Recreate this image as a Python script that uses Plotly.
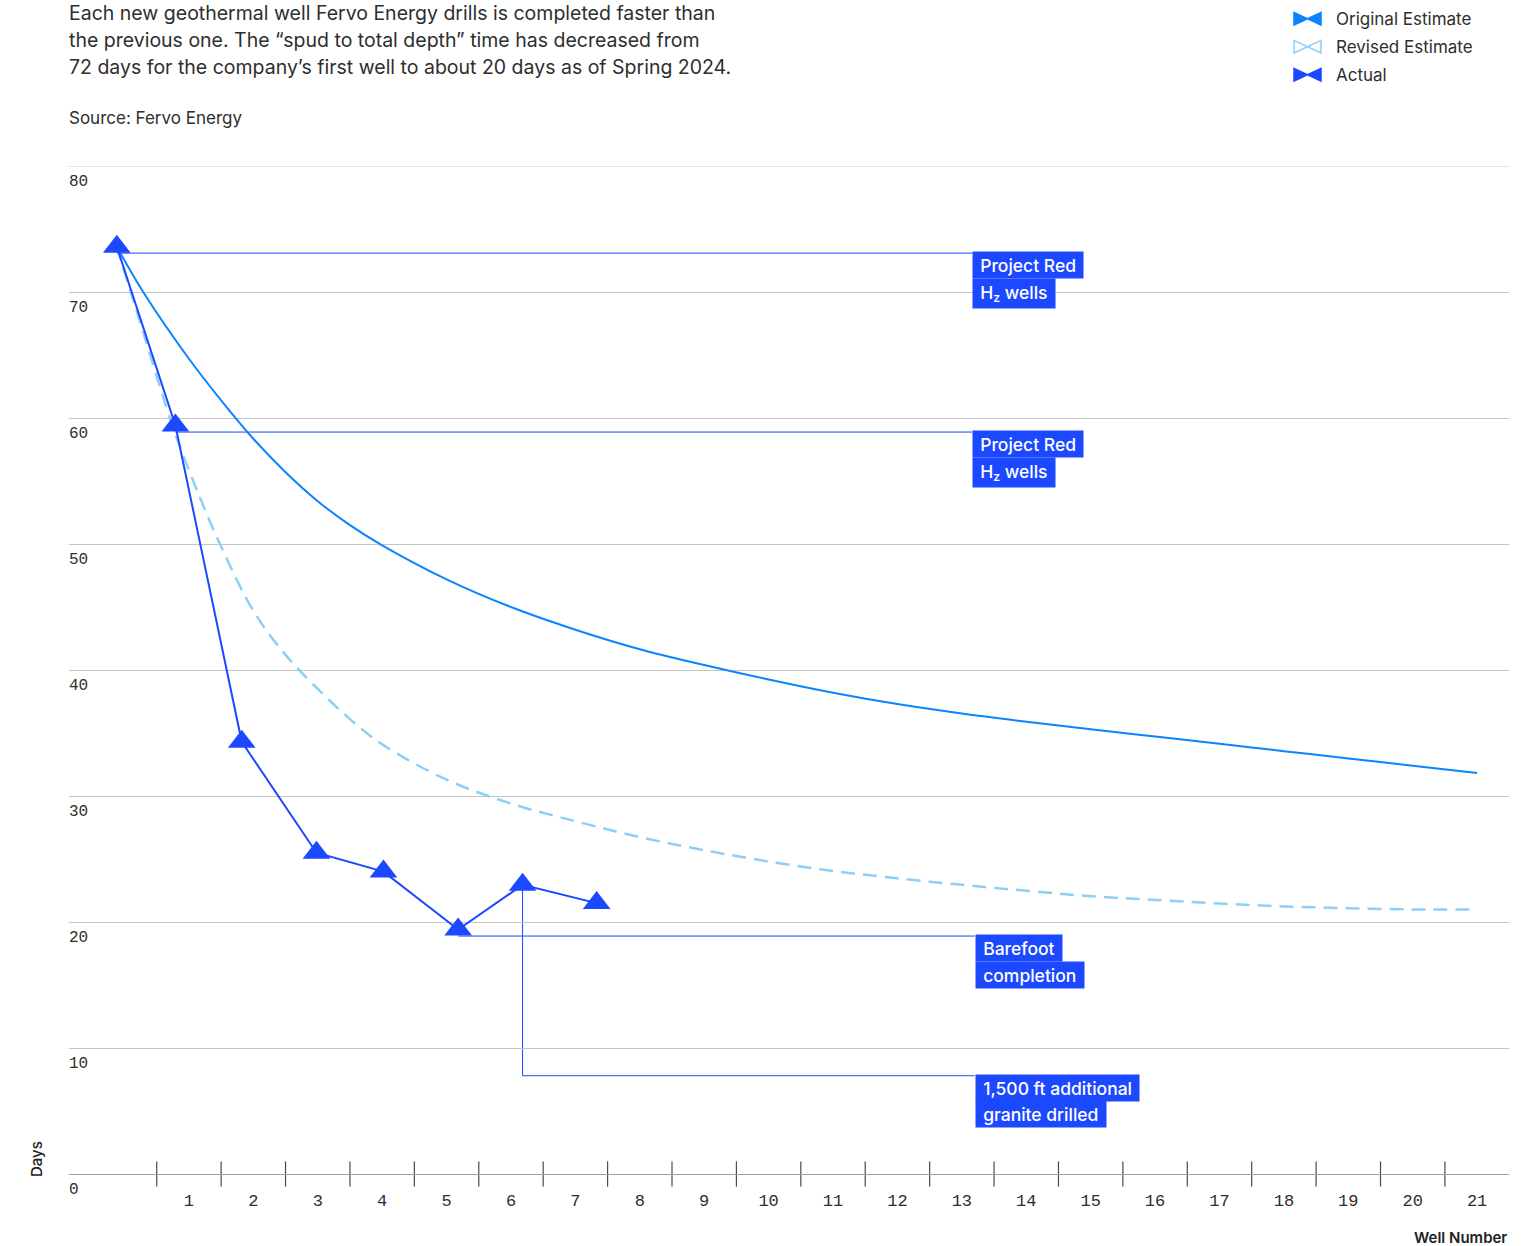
import plotly.graph_objects as go

# ---- data -------------------------------------------------------------
ACTUAL_X = [-0.12, 0.79, 1.82, 2.98, 4.02, 5.18, 6.18, 7.33]
ACTUAL_DAYS = [73.6, 59.4, 34.3, 25.5, 24.0, 19.4, 22.95, 21.5]

ORIG_X = [-0.12, 0.29, 1, 1.5, 2, 2.5, 3, 3.5, 4, 5, 6, 7, 8, 9, 10, 11,
          12, 13, 14, 15, 16, 17, 18, 19, 20, 21]
ORIG_DAYS = [73.6, 70.0, 64.7, 61.4, 58.35, 55.7, 53.4, 51.5, 49.9, 47.2,
             45.0, 43.2, 41.65, 40.4, 39.25, 38.2, 37.3, 36.55, 35.9, 35.3,
             34.72, 34.14, 33.56, 32.98, 32.4, 31.82]

REV_X = [-0.12, 0.29, 0.77, 1.17, 1.5, 2, 2.5, 3, 3.5, 4, 5, 6, 7, 8, 9,
         10, 11, 12, 13, 14, 15, 16, 17, 18, 19, 20, 20.95]
REV_DAYS = [73.6, 66.8, 59.0, 53.7, 49.8, 44.7, 41.2, 38.5, 36.1, 34.1,
            31.3, 29.4, 28.0, 26.74, 25.7, 24.8, 24.05, 23.47, 22.95, 22.48,
            22.05, 21.75, 21.47, 21.24, 21.1, 21.0, 21.0]

WELL_LABELS = [str(n) for n in range(1, 22)]
Y_TICKS = [0, 10, 20, 30, 40, 50, 60, 70, 80]

# callouts: (index of actual point, first line, second line)
CALLOUTS = [
    (0, "Project Red", "H<sub>z</sub> wells"),
    (1, "Project Red", "H<sub>z</sub> wells"),
    (5, "Barefoot", "completion"),
]
GRANITE_POINT = 6
GRANITE_LEVEL = 7.8
GRANITE_TEXT = ("1,500 ft additional", "granite drilled")
CALLOUT_X = [13.16, 13.16, 13.2]
GRANITE_X = 13.2

TITLE_LINES = [
    "Each new geothermal well Fervo Energy drills is completed faster than",
    "the previous one. The \u201cspud to total depth\u201d time has decreased from",
    "72 days for the company\u2019s first well to about 20 days as of Spring 2024.",
]
SOURCE = "Source: Fervo Energy"
LEGEND_ITEMS = ["Original Estimate", "Revised Estimate", "Actual"]

# ---- styles -----------------------------------------------------------
C_ACTUAL = "#1c48ff"
C_ORIG = "#0a84ff"
C_REV = "#8ecff7"
C_TEXT = "#2e2e2e"
C_GRID = "#c6c6c6"
SANS = "Inter"
MONO = "Liberation Mono"

fig = go.Figure()

fig.add_trace(go.Scatter(
    x=REV_X, y=REV_DAYS, mode="lines", line_shape="spline",
    line=dict(color=C_REV, width=2.5, dash="14px,8px"),
    hoverinfo="skip"))
fig.add_trace(go.Scatter(
    x=ORIG_X, y=ORIG_DAYS, mode="lines", line_shape="spline",
    line=dict(color=C_ORIG, width=2), hoverinfo="skip"))

# tick marks crossing the x axis, at the borders between wells
tick_pos = [k + 0.5 for k in range(22)]
fig.add_trace(go.Scatter(
    x=tick_pos, y=[0] * len(tick_pos), mode="markers", cliponaxis=False,
    marker=dict(symbol="line-ns", size=18,
                line=dict(color="#4a4a4a", width=1.2)),
    hoverinfo="skip"))

fig.add_trace(go.Scatter(
    x=ACTUAL_X, y=ACTUAL_DAYS, mode="lines+markers", cliponaxis=False,
    line=dict(color=C_ACTUAL, width=2),
    marker=dict(symbol="triangle-up", size=24, color=C_ACTUAL,
                line=dict(width=0)),
    hoverinfo="skip"))

shapes = []
annotations = []
BASE_OFFSET = -6.5  # triangle base below the point, in pixels
BOX_SHIFT = 2       # boxes sit flush with their leader line
BOX_H = 26.5

# top gridline (plotly leaves out the one on the range edge)
shapes.append(dict(type="line", xref="paper", yref="y", x0=0, x1=1,
                   y0=Y_TICKS[-1], y1=Y_TICKS[-1],
                   line=dict(color=C_GRID, width=1), layer="below"))


def box(text, x, y, yshift):
    return dict(
        text="\u00a0" + text + "\u00a0", x=x, y=y, xref="x", yref="y",
        xanchor="left", yanchor="top", yshift=yshift + BOX_SHIFT,
        showarrow=False, bgcolor=C_ACTUAL, borderpad=2.5,
        font=dict(family=SANS, size=17.5, color="white", weight=500))


for (idx, l1, l2), bx in zip(CALLOUTS, CALLOUT_X):
    px, py = ACTUAL_X[idx], ACTUAL_DAYS[idx]
    shapes.append(dict(
        type="line", xref="x", yref="y", ysizemode="pixel", yanchor=py,
        x0=px, x1=bx, y0=BASE_OFFSET, y1=BASE_OFFSET,
        line=dict(color=C_ACTUAL, width=1), layer="below"))
    annotations.append(box(l1, bx, py, BASE_OFFSET))
    annotations.append(box(l2, bx, py, BASE_OFFSET - BOX_H))

gx, gy = ACTUAL_X[GRANITE_POINT], ACTUAL_DAYS[GRANITE_POINT]
shapes.append(dict(type="line", xref="x", yref="y", x0=gx, x1=gx,
                   y0=gy, y1=GRANITE_LEVEL,
                   line=dict(color=C_ACTUAL, width=1), layer="below"))
shapes.append(dict(type="line", xref="x", yref="y", x0=gx, x1=GRANITE_X,
                   y0=GRANITE_LEVEL, y1=GRANITE_LEVEL,
                   line=dict(color=C_ACTUAL, width=1), layer="below"))
annotations.append(box(GRANITE_TEXT[0], GRANITE_X, GRANITE_LEVEL, 0))
annotations.append(box(GRANITE_TEXT[1], GRANITE_X, GRANITE_LEVEL, -BOX_H))

# header text
for i, line in enumerate(TITLE_LINES):
    annotations.append(dict(
        text=line, xref="paper", yref="paper", x=0, y=1, xanchor="left",
        yanchor="middle", xshift=-2, yshift=153 - 27 * i, showarrow=False,
        font=dict(family=SANS, size=19.5, color=C_TEXT)))
annotations.append(dict(
    text=SOURCE, xref="paper", yref="paper", x=0, y=1, xanchor="left",
    yanchor="middle", xshift=-2, yshift=48.5, showarrow=False,
    font=dict(family=SANS, size=17, color=C_TEXT)))

# legend
legend_fill = [C_ORIG, None, C_ACTUAL]
legend_line = [C_ORIG, C_REV, C_ACTUAL]
for i, name in enumerate(LEGEND_ITEMS):
    cy = 147.3 - 28 * i
    path = (f"M-215,{cy + 6.3} L-201.5,{cy} L-215,{cy - 6.3} Z "
            f"M-188,{cy + 6.3} L-201.5,{cy} L-188,{cy - 6.3} Z")
    shapes.append(dict(
        type="path", xref="paper", yref="paper", xsizemode="pixel",
        ysizemode="pixel", xanchor=1, yanchor=1, path=path,
        fillcolor=legend_fill[i] if legend_fill[i] else "rgba(0,0,0,0)",
        line=dict(color=legend_line[i], width=1.5)))
    annotations.append(dict(
        text=name, xref="paper", yref="paper", x=1, y=1, xanchor="left",
        yanchor="middle", xshift=-175, yshift=cy, showarrow=False,
        font=dict(family=SANS, size=17, color=C_TEXT)))

# axis titles
annotations.append(dict(
    text="Days", xref="paper", yref="paper", x=0, y=0, xshift=-33,
    yshift=15, textangle=-90, showarrow=False, xanchor="center",
    yanchor="middle", font=dict(family=SANS, size=15, color="#222",
                                weight=500)))
annotations.append(dict(
    text="Well Number", xref="paper", yref="paper", x=1, y=0,
    xanchor="right", yanchor="middle", yshift=-63, showarrow=False,
    font=dict(family=SANS, size=15, color="#222", weight=600)))

fig.update_layout(
    template="none", width=1529, height=1246, showlegend=False,
    margin=dict(l=69, r=20, t=166, b=72),
    paper_bgcolor="white", plot_bgcolor="white",
    shapes=shapes, annotations=annotations,
    xaxis=dict(range=[-0.862, 21.495], tickmode="array",
               tickvals=list(range(1, 22)), ticktext=WELL_LABELS,
               ticks="", showgrid=False, zeroline=False, showline=True,
               linecolor="#a0a0a0", linewidth=1.3, ticklabelstandoff=10,
               tickfont=dict(family=MONO, size=17, color=C_TEXT),
               automargin=False),
    yaxis=dict(range=[0, 80], tickmode="array", tickvals=Y_TICKS,
               ticktext=[str(v) for v in Y_TICKS], ticks="",
               showgrid=True, gridcolor=C_GRID, gridwidth=1,
               zeroline=False, showline=False,
               ticklabelposition="inside", ticklabelshift=14,
               ticklabeloverflow="allow", ticklabelstandoff=-3,
               tickfont=dict(family=MONO, size=16, color=C_TEXT),
               automargin=False),
)

fig.write_html("out.html")
